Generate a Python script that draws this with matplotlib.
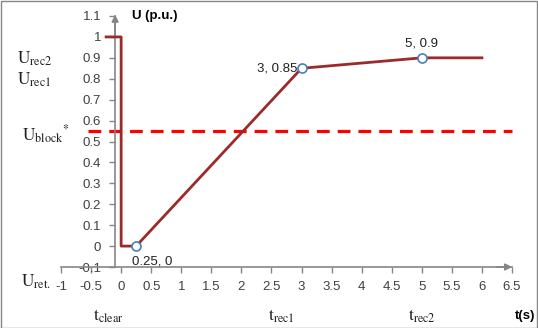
import numpy as np
import matplotlib
matplotlib.use("Agg")
import matplotlib.pyplot as plt
from matplotlib.patches import Rectangle

plt.rcParams['mathtext.fontset'] = 'stix'
plt.rcParams['font.family'] = ['Liberation Sans', 'DejaVu Sans']

# voltage profile (p.u.) against time (s)
t = [-0.25, 0, 0, 0.25, 3, 5, 6]
u = [1, 1, 0, 0, 0.85, 0.9, 0.9]

# points carrying a value label
pt_t = [0.25, 3, 5]
pt_u = [0, 0.85, 0.9]
pt_lbl = ['0.25, 0', '3, 0.85', '5, 0.9']

u_block = 0.55
block_t = [-0.55, 6.5]

xticks = np.arange(-1, 6.51, 0.5)
yticks = np.arange(-0.1, 1.101, 0.1)

W, H = 538, 328
fig = plt.figure(figsize=(W / 100, H / 100), dpi=100)
ax = fig.add_axes([61 / W, (H - 267) / H, (512 - 61) / W, (267 - 16) / H])
ax.set_xlim(-1, 6.5)
ax.set_ylim(-0.1, 1.1)

axis_col = '#868686'
for s in ['top', 'right']:
    ax.spines[s].set_visible(False)
ax.spines['left'].set_position(('data', -0.1))
ax.spines['bottom'].set_position(('data', -0.1))
for s in ['left', 'bottom']:
    ax.spines[s].set_color(axis_col)
    ax.spines[s].set_linewidth(1.2)

ax.set_xticks(xticks)
ax.set_xticklabels(['%g' % v for v in xticks])
ax.set_yticks(yticks)
ax.set_yticklabels(['%g' % round(v, 1) for v in yticks])
ax.tick_params(colors=axis_col, labelcolor='#404040', labelsize=9.5, length=4, width=1)
ax.tick_params(axis='x', pad=6)
ax.tick_params(axis='y', pad=6)

# axis arrows
ax.annotate('', xy=(6.55, -0.1), xytext=(6.2, -0.1),
            arrowprops=dict(arrowstyle='-|>', color=axis_col, lw=1.2, mutation_scale=10),
            annotation_clip=False)
ax.annotate('', xy=(-0.1, 1.12), xytext=(-0.1, 1.0),
            arrowprops=dict(arrowstyle='-|>', color=axis_col, lw=1.2, mutation_scale=10),
            annotation_clip=False)

ax.plot(block_t, [u_block, u_block], color='#ff0000', lw=2.3, ls=(0, (4, 2.5)), clip_on=False)
ax.plot(t, u, color='#9b2b2b', lw=2, clip_on=False, zorder=3)
ax.plot(pt_t, pt_u, ls='none', marker='o', ms=6.5, mfc='white', mec='#4a7ebb', mew=1.2,
        zorder=4, clip_on=False)

ax.annotate(pt_lbl[0], (pt_t[0], pt_u[0]), xytext=(-3, -7), textcoords='offset points',
            ha='left', va='top', fontsize=9.5, color='#202020')
ax.annotate(pt_lbl[1], (pt_t[1], pt_u[1]), xytext=(-3, 0), textcoords='offset points',
            ha='right', va='center', fontsize=9.5, color='#202020')
ax.annotate(pt_lbl[2], (pt_t[2], pt_u[2]), xytext=(0, 6), textcoords='offset points',
            ha='center', va='bottom', fontsize=9.5, color='#202020')

# axis titles
fig.text(132 / W, 1 - 16 / H, 'U (p.u.)', fontsize=9.5, fontweight='bold', va='center', ha='left')
fig.text(535 / W, 1 - 316 / H, 't(s)', fontsize=9.5, fontweight='bold', va='center', ha='right')

# symbol labels
sym = dict(fontsize=12.5, va='center', ha='left', color='#202020')
fig.text(17 / W, 1 - 59 / H, r'$\mathrm{U_{rec2}}$', **sym)
fig.text(17 / W, 1 - 80 / H, r'$\mathrm{U_{rec1}}$', **sym)
fig.text(22 / W, 1 - 135 / H, r'$\mathrm{U_{block}}^{*}$', **sym)
fig.text(21 / W, 1 - 282 / H, r'$\mathrm{U_{ret.}}$', **sym)
fig.text(93 / W, 1 - 316 / H, r'$\mathrm{t_{clear}}$', **sym)
fig.text(268 / W, 1 - 316 / H, r'$\mathrm{t_{rec1}}$', **sym)
fig.text(408 / W, 1 - 316 / H, r'$\mathrm{t_{rec2}}$', **sym)

# frame around the chart
fig.patches.append(Rectangle((0.5 / W, 0.5 / H), 1 - 1.5 / W, 1 - 1.5 / H, transform=fig.transFigure,
                             fill=False, ec='#868686', lw=1))

fig.savefig('out.png', dpi=100)
